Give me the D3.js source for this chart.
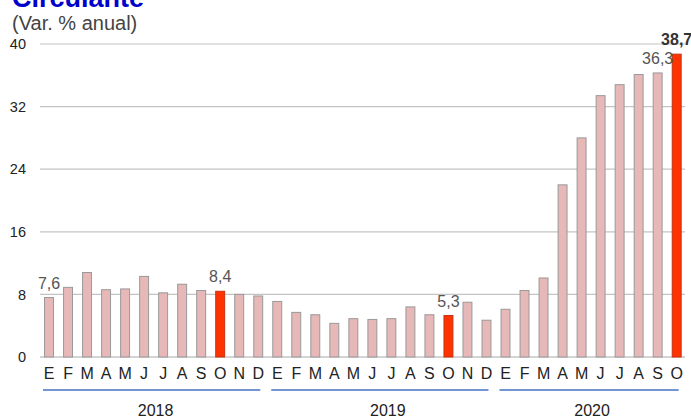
<!DOCTYPE html>
<html>
<head>
<meta charset="utf-8">
<script src="https://cdn.jsdelivr.net/npm/d3@7"></script>
<style>
  body { margin: 0; background: #fff; }
  svg { font-family: Arial, "Liberation Sans", sans-serif; }
</style>
</head>
<body>
<svg id="chart" width="691" height="418"></svg>
<script>
// months (E..D) for 2018, 2019 and Jan-Oct 2020
var months = ["E","F","M","A","M","J","J","A","S","O","N","D",
              "E","F","M","A","M","J","J","A","S","O","N","D",
              "E","F","M","A","M","J","J","A","S","O"];
var years = ["2018","2019","2020"];
var year_counts = [12, 12, 10];
var values = [7.6, 8.9, 10.8, 8.6, 8.7, 10.3, 8.2, 9.3, 8.5, 8.4, 8.0, 7.8,
              7.1, 5.7, 5.4, 4.3, 4.9, 4.8, 4.9, 6.4, 5.4, 5.3, 7.0, 4.7,
              6.1, 8.5, 10.1, 22.0, 28.0, 33.4, 34.8, 36.1, 36.3, 38.7];
var highlight = [9, 21, 33];
// value labels: index of bar, text, bold?
var label_idx = [0, 9, 21, 32, 33];
var label_txt = ["7,6", "8,4", "5,3", "36,3", "38,7"];
var label_bold = [false, false, false, false, true];
var y_ticks = [0, 8, 16, 24, 32, 40];

var svg = d3.select("#chart");

var x = d3.scaleBand()
	.domain(d3.range(values.length))
	.range([39.5, 686.2])
	.paddingInner(0.53)
	.paddingOuter(0.265);

var y = d3.scaleLinear()
	.domain([0, 40])
	.range([357, 44]);

// title
svg.append("text")
	.attr("x", 12).attr("y", 7)
	.attr("font-size", 27).attr("font-weight", "bold")
	.attr("fill", "#0000cc")
	.text("Circulante");
svg.append("text")
	.attr("x", 12).attr("y", 30)
	.attr("font-size", 20)
	.attr("fill", "#444")
	.text("(Var. % anual)");

// grid
svg.append("g").selectAll("line")
	.data(y_ticks)
	.enter().append("line")
	.attr("x1", 40).attr("x2", 685)
	.attr("y1", function(d){ return y(d); })
	.attr("y2", function(d){ return y(d); })
	.attr("stroke", function(d){ return d == 0 ? "#aaa" : "#c4c4c4"; })
	.attr("stroke-width", 1.2);

svg.append("g").selectAll("text")
	.data(y_ticks)
	.enter().append("text")
	.attr("x", 26)
	.attr("y", function(d){ return y(d); })
	.attr("dy", "0.36em")
	.attr("text-anchor", "end")
	.attr("font-size", 14.5)
	.attr("fill", "#222")
	.text(function(d){ return d; });

// bars
svg.append("g").selectAll("rect")
	.data(values)
	.enter().append("rect")
	.attr("x", function(d, i){ return x(i); })
	.attr("y", function(d){ return y(d); })
	.attr("width", x.bandwidth())
	.attr("height", function(d){ return y(0) - y(d); })
	.attr("fill", function(d, i){ return highlight.indexOf(i) >= 0 ? "#ff3300" : "#e6b8b7"; })
	.attr("stroke", function(d, i){ return highlight.indexOf(i) >= 0 ? "#c83010" : "#999"; })
	.attr("stroke-width", 1);

// value labels
svg.append("g").selectAll("text")
	.data(label_idx)
	.enter().append("text")
	.attr("x", function(d){ return x(d) + x.bandwidth() / 2; })
	.attr("y", function(d){ return y(values[d]) - 9; })
	.attr("text-anchor", "middle")
	.attr("font-size", 16)
	.attr("font-weight", function(d, i){ return label_bold[i] ? "bold" : "normal"; })
	.attr("fill", function(d, i){ return label_bold[i] ? "#333" : "#555"; })
	.text(function(d, i){ return label_txt[i]; });

// month labels
svg.append("g").selectAll("text")
	.data(months)
	.enter().append("text")
	.attr("x", function(d, i){ return x(i) + x.bandwidth() / 2; })
	.attr("y", 379)
	.attr("text-anchor", "middle")
	.attr("font-size", 16)
	.attr("fill", "#222")
	.text(function(d){ return d; });

// year groups
var start = 0;
var label_shift = [4, 8, 3];
years.forEach(function(yr, k){
	var first = start, last = start + year_counts[k] - 1;
	var x1 = x(first) + x.bandwidth() / 2 - 6;
	var x2 = x(last) + x.bandwidth() / 2 + 2;
	svg.append("line")
		.attr("x1", x1).attr("x2", x2)
		.attr("y1", 390).attr("y2", 390)
		.attr("stroke", "#4472c4")
		.attr("stroke-width", 1.5);
	svg.append("text")
		.attr("x", (x1 + x2) / 2 + label_shift[k])
		.attr("y", 416)
		.attr("text-anchor", "middle")
		.attr("font-size", 16)
		.attr("fill", "#222")
		.text(yr);
	start = last + 1;
});
</script>
</body>
</html>
